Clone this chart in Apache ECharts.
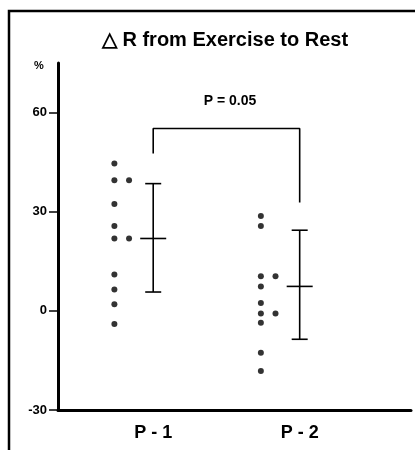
<!DOCTYPE html>
<html><head><meta charset="utf-8">
<script src="https://cdn.jsdelivr.net/npm/echarts@6/dist/echarts.min.js"></script>
<style>html,body{margin:0;padding:0;background:#fff}#c{width:415px;height:450px}</style>
</head><body><div id="c"></div>
<script>
// ---- data ----
const groups = ['P - 1', 'P - 2'];
const groupPos = [1, 2];
const p1Values = [44.6, 39.5, 39.5, 32.3, 25.7, 21.9, 21.9, 11.0, 6.5, 2.0, -4.0];
const p1Column = [0, 0, 1, 0, 0, 0, 1, 0, 0, 0, 0];
const p2Values = [28.7, 25.7, 10.5, 10.5, 7.4, 2.4, -0.8, -0.8, -3.6, -12.7, -18.2];
const p2Column = [0, 0, 0, 1, 0, 0, 0, 1, 0, 0, 0];
const means = [21.9, 7.4];
const lowers = [5.7, -8.6];
const uppers = [38.5, 24.4];
const bracketTop = 55.2;
const bracketEnds = [47.6, 32.8];
const pLabel = 'P = 0.05';
const yTicks = [-30, 0, 30, 60];
const titleText = '\u25B3 R from Exercise to Rest';
const yUnit = '%';

// ---- build ----
const colOffset = [-0.265, -0.165];
const font = '"Liberation Sans", Arial, Helvetica, sans-serif';
const dots = [];
[[p1Values, p1Column], [p2Values, p2Column]].forEach(([vals, cols], g) => {
  vals.forEach((v, i) => dots.push([groupPos[g] + colOffset[cols[i]], v]));
});
const errData = groupPos.map((x, i) => [x, means[i], lowers[i], uppers[i]]);
const bracketData = [
  [groupPos[0], bracketEnds[0]], [groupPos[0], bracketTop],
  [groupPos[1], bracketTop], [groupPos[1], bracketEnds[1]]
];

const chart = echarts.init(document.getElementById('c'), null, {renderer: 'canvas'});
chart.setOption({
  animation: false,
  backgroundColor: '#fff',
  grid: {left: 58, right: 4, top: 63, bottom: 40, containLabel: false},
  xAxis: {
    type: 'value', min: 0.35, max: 2.76,
    axisLine: {onZero: false, lineStyle: {color: '#000', width: 3}},
    axisTick: {show: false},
    splitLine: {show: false},
    axisLabel: {
      customValues: groupPos,
      formatter: v => groups[groupPos.indexOf(Math.round(v))] || '',
      color: '#000', fontWeight: 'bold', fontSize: 18, fontFamily: font, margin: 14
    }
  },
  yAxis: {
    type: 'value', min: -30, max: 75,
    axisLine: {show: true, onZero: false, lineStyle: {color: '#000', width: 3}},
    axisTick: {show: true, customValues: yTicks, length: 9, lineStyle: {color: '#000', width: 1.5}},
    splitLine: {show: false},
    axisLabel: {customValues: yTicks, color: '#000', fontWeight: 'bold', fontSize: 13, fontFamily: font, margin: 11}
  },
  graphic: [
    {type: 'polyline', shape: {points: [[9, 450], [9, 11], [415, 11]]}, style: {stroke: '#000', lineWidth: 2.5, fill: null}},
    {type: 'text', x: 225, y: 40, style: {text: titleText, fill: '#000', font: 'bold 20px ' + font, textAlign: 'center', textVerticalAlign: 'middle'}},
    {type: 'text', x: 39, y: 66, style: {text: yUnit, fill: '#000', font: 'bold 11px ' + font, textAlign: 'center', textVerticalAlign: 'middle'}},
    {type: 'text', x: 230, y: 101, style: {text: pLabel, fill: '#000', font: 'bold 14px ' + font, textAlign: 'center', textVerticalAlign: 'middle'}}
  ],
  series: [
    {type: 'scatter', data: dots, symbol: 'circle', symbolSize: 6, itemStyle: {color: '#000'}},
    {
      type: 'custom', data: errData,
      renderItem: (params, api) => {
        const x = api.value(0);
        const m = api.coord([x, api.value(1)]);
        const lo = api.coord([x, api.value(2)]);
        const hi = api.coord([x, api.value(3)]);
        const st = {stroke: '#000', lineWidth: 1.6};
        const ln = (x1, y1, x2, y2) => ({type: 'line', shape: {x1, y1, x2, y2}, style: st});
        return {type: 'group', children: [
          ln(hi[0], hi[1], lo[0], lo[1]),
          ln(hi[0] - 8, hi[1], hi[0] + 8, hi[1]),
          ln(lo[0] - 8, lo[1], lo[0] + 8, lo[1]),
          ln(m[0] - 13, m[1], m[0] + 13, m[1])
        ]};
      }
    },
    {type: 'line', data: bracketData, symbol: 'none', lineStyle: {color: '#000', width: 1.6}}
  ]
});
</script></body></html>
